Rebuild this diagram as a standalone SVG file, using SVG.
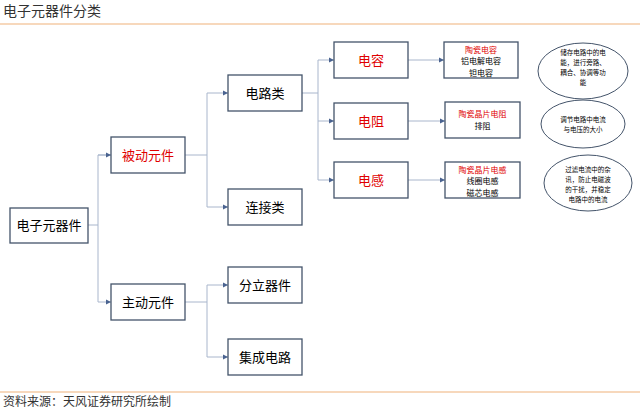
<svg xmlns="http://www.w3.org/2000/svg" width="640" height="411" viewBox="0 0 640 411">
<style>
text{font-family:"Noto Sans CJK SC","Liberation Sans",sans-serif;text-anchor:middle;fill:#000}
.b rect{fill:#fff;stroke:#44546a;stroke-width:1.3}
.b text{font-size:13px}
.r{fill:#e00000!important}
.d text{font-size:8px}
.e ellipse{fill:#fff;stroke:#44546a;stroke-width:1}
.e text{font-size:6.5px}
#conn path{fill:none;stroke:#a9b6cc;stroke-width:1;marker-end:url(#a)}
</style>
<defs><marker id="a" markerWidth="6" markerHeight="6" refX="5" refY="3" orient="auto" markerUnits="userSpaceOnUse"><path d="M0,0.5L5,3L0,5.5z" fill="#4a6390"/></marker></defs>
<rect width="640" height="411" fill="#fff"/>
<text x="3" y="16" style="text-anchor:start;font-size:14px;fill:#333">电子元器件分类</text>
<line x1="0" y1="24" x2="640" y2="24" stroke="#f0b27a" stroke-width="1.2"/>
<line x1="0" y1="392" x2="640" y2="392" stroke="#f0b27a" stroke-width="1.2"/>
<text x="3" y="406" style="text-anchor:start;font-size:12px;fill:#333">资料来源：天风证券研究所绘制</text>
<g id="conn">
<path d="M88,225H98V155H111" style="marker-end:none"/>
<path d="M98,155H111"/>
<path d="M98,225V302H111"/>
<path d="M185,155H207V93H228"/>
<path d="M207,155V207H228"/>
<path d="M185,302H207V285H228"/>
<path d="M207,302V357H228"/>
<path d="M302,93H318V60H334"/>
<path d="M318,93V121H334"/>
<path d="M318,121V180H334"/>
<path d="M408,60H444"/>
<path d="M408,121H445"/>
<path d="M408,180H445"/>
</g>
<g id="n1" class="b"><rect x="10" y="208" width="78" height="35"/><text x="49" y="230">电子元器件</text></g>
<g id="n2" class="b"><rect x="111" y="137" width="74" height="36"/><text x="148" y="160" class="r">被动元件</text></g>
<g id="n3" class="b"><rect x="111" y="284" width="74" height="36"/><text x="148" y="307">主动元件</text></g>
<g id="n4" class="b"><rect x="228" y="75" width="74" height="36"/><text x="265" y="98">电路类</text></g>
<g id="n5" class="b"><rect x="228" y="189" width="74" height="36"/><text x="265" y="212">连接类</text></g>
<g id="n6" class="b"><rect x="228" y="267" width="74" height="36"/><text x="265" y="290">分立器件</text></g>
<g id="n7" class="b"><rect x="228" y="339" width="74" height="36"/><text x="265" y="362">集成电路</text></g>
<g id="n8" class="b"><rect x="334" y="42" width="74" height="36"/><text x="371" y="65" class="r">电容</text></g>
<g id="n9" class="b"><rect x="334" y="103" width="74" height="36"/><text x="371" y="126" class="r">电阻</text></g>
<g id="n10" class="b"><rect x="334" y="162" width="74" height="36"/><text x="371" y="185" class="r">电感</text></g>
<g id="n11" class="b d"><rect x="444" y="42" width="74" height="36"/><text x="481" y="52.5" class="r">陶瓷电容</text><text x="481" y="64">铝电解电容</text><text x="481" y="75.5">钽电容</text></g>
<g id="n12" class="b d"><rect x="445" y="102" width="75" height="36"/><text x="482.5" y="117" class="r">陶瓷晶片电阻</text><text x="482.5" y="129">排阻</text></g>
<g id="n13" class="b d"><rect x="445" y="162" width="75" height="36"/><text x="482.5" y="172.5" class="r">陶瓷晶片电感</text><text x="482.5" y="184">线圈电感</text><text x="482.5" y="195.5">磁芯电感</text></g>
<g id="n14" class="e"><ellipse cx="583" cy="71" rx="45" ry="28"/><text x="583" y="55">储存电路中的电</text><text x="583" y="65">能，进行旁路、</text><text x="583" y="75">耦合、协调等功</text><text x="583" y="85">能</text></g>
<g id="n15" class="e"><ellipse cx="583" cy="124" rx="42" ry="24"/><text x="583" y="122">调节电路中电流</text><text x="583" y="132">与电压的大小</text></g>
<g id="n16" class="e"><ellipse cx="588" cy="183" rx="44" ry="28"/><text x="588" y="172">过滤电流中的杂</text><text x="588" y="182">讯，防止电磁波</text><text x="588" y="192">的干扰，并稳定</text><text x="588" y="202">电路中的电流</text></g>
</svg>
